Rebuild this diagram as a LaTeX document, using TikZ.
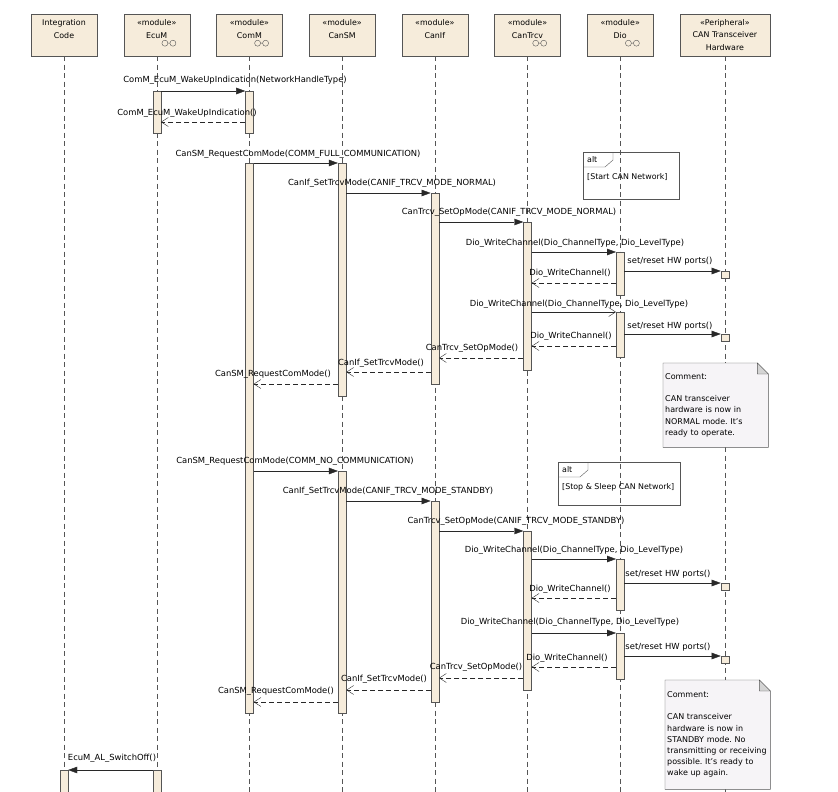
\documentclass[tikz,border=0pt]{standalone}
\usepackage{fontspec}
\setmainfont{DejaVu Sans}
\usetikzlibrary{positioning}
\usetikzlibrary{arrows.meta}
\usetikzlibrary{calc}
\usetikzlibrary{backgrounds}

\definecolor{boxfill}{RGB}{246,236,219}
\definecolor{notefill}{RGB}{246,244,247}
\definecolor{edge}{RGB}{85,85,85}
\definecolor{msgline}{RGB}{40,40,40}

\newcommand{\msgfont}{\fontsize{8.4pt}{10pt}\selectfont}
\newcommand{\altfont}{\fontsize{7.9pt}{9.5pt}\selectfont}
\newcommand{\headfont}{\fontsize{7.9pt}{12.5pt}\selectfont}
\newcommand{\notefont}{\fontsize{8pt}{11.2pt}\selectfont}
\frenchspacing

\begin{document}
\begin{tikzpicture}[
    x=1pt, y=1pt,
    head/.style={rectangle, draw=edge, fill=boxfill, minimum width=66pt, minimum height=42pt, inner sep=1pt, align=center, font=\headfont},
    bar/.style={rectangle, draw=edge, fill=boxfill, minimum width=8pt, inner sep=0pt, anchor=north},
    hw/.style={rectangle, draw=edge, fill=boxfill, minimum width=8pt, minimum height=7pt, inner sep=0pt, anchor=north},
    life/.style={draw=edge, dash pattern=on 5pt off 3.5pt},
    msg/.style={font=\msgfont, inner sep=1pt},
    altmsg/.style={font=\altfont, inner sep=1pt, anchor=west},
    call/.style={draw=msgline, -{Triangle[length=9pt,width=6.5pt]}},
    ret/.style={draw=msgline, dash pattern=on 5pt off 3pt, -{Straight Barb[length=7pt,width=9pt]}},
    frame/.style={rectangle, draw=edge, inner sep=0pt, anchor=north west},
    note/.style={rectangle, minimum width=105pt, text width=101pt, inner xsep=2pt, align=left, font=\notefont, anchor=north west},
]
    \useasboundingbox (0,0) rectangle (838,-792);

    % lifeline heads
    \node[head] (ic) at (64,-35) {Integration\\Code\\\mbox{}};
    \node[head] (ecum) [right=26.3pt of ic] {«module»\\EcuM\\\mbox{}};
    \node[head] (comm) [right=26.3pt of ecum] {«module»\\ComM\\\mbox{}};
    \node[head] (cansm) [right=26.3pt of comm] {«module»\\CanSM\\\mbox{}};
    \node[head] (canif) [right=26.3pt of cansm] {«module»\\CanIf\\\mbox{}};
    \node[head] (cantrcv) [right=26.3pt of canif] {«module»\\CanTrcv\\\mbox{}};
    \node[head] (dio) [right=26.3pt of cantrcv] {«module»\\Dio\\\mbox{}};
    \node[head, minimum width=90pt] (hwp) [right=26.3pt of dio] {«Peripheral»\\CAN Transceiver\\Hardware};

    \draw[edge] ($(ecum.south east)+(-25,13)$) circle (3) ($(ecum.south east)+(-17,13)$) circle (3) ($(ecum.south east)+(-22,13)$) -- ($(ecum.south east)+(-20,13)$);
    \draw[edge] ($(comm.south east)+(-25,13)$) circle (3) ($(comm.south east)+(-17,13)$) circle (3) ($(comm.south east)+(-22,13)$) -- ($(comm.south east)+(-20,13)$);
    \draw[edge] ($(cantrcv.south east)+(-25,13)$) circle (3) ($(cantrcv.south east)+(-17,13)$) circle (3) ($(cantrcv.south east)+(-22,13)$) -- ($(cantrcv.south east)+(-20,13)$);
    \draw[edge] ($(dio.south east)+(-25,13)$) circle (3) ($(dio.south east)+(-17,13)$) circle (3) ($(dio.south east)+(-22,13)$) -- ($(dio.south east)+(-20,13)$);

    \begin{scope}[on background layer]
        \fill[white] (0,0) rectangle (838,-792);
        \draw[life] (ic.south) -- (ic.south |- 0,-800);
        \draw[life] (ecum.south) -- (ecum.south |- 0,-800);
        \draw[life] (comm.south) -- (comm.south |- 0,-800);
        \draw[life] (cansm.south) -- (cansm.south |- 0,-800);
        \draw[life] (canif.south) -- (canif.south |- 0,-800);
        \draw[life] (cantrcv.south) -- (cantrcv.south |- 0,-800);
        \draw[life] (dio.south) -- (dio.south |- 0,-800);
        \draw[life] (hwp.south) -- (hwp.south |- 0,-800);
    \end{scope}

    % wake up
    \node[bar, minimum height=42pt] (ecumA) at (ecum.south |- 0,-91) {};
    \node[bar, minimum height=42pt] (commA) at (comm.south |- 0,-91) {};
    \node[msg] (m1) at (235,-80) {ComM\_EcuM\_WakeUpIndication(NetworkHandleType)};
    \draw[call] (ecumA.north east) -- (commA.north west);
    \node[msg] (m2) at (187,-113) {ComM\_EcuM\_WakeUpIndication()};
    \draw[ret] (commA.west |- 0,-122) -- (ecumA.east |- 0,-122);

    % start CAN network
    \node[bar, minimum height=550pt] (commB) at (comm.south |- 0,-163) {};
    \node[bar, minimum height=233pt] (cansmA) at (cansm.south |- 0,-163) {};
    \node[bar, minimum height=191pt] (canifA) at (canif.south |- 0,-193) {};
    \node[bar, minimum height=148pt] (cantrcvA) at (cantrcv.south |- 0,-222) {};
    \node[bar, minimum height=43pt] (dioA) at (dio.south |- 0,-252) {};
    \node[hw] (hwA) at (hwp.south |- 0,-271) {};
    \node[bar, minimum height=45pt] (dioB) at (dio.south |- 0,-312) {};
    \node[hw] (hwB) at (hwp.south |- 0,-334) {};

    \node[frame, minimum width=96pt, minimum height=47pt] (alt1) at (583,-152) {};
    \draw[edge] ($(alt1.north west)+(30,0)$) -- ++(0,-8) -- ++(-8,-7) -- ($(alt1.north west)+(0,-15)$);
    \node[altmsg] (alt1k) at ($(alt1.north west)+(3,-7.5)$) {alt};
    \node[altmsg] (alt1g) at ($(alt1.west)+(3,-1.5)$) {[Start CAN Network]};

    \node[msg] (m3) at (298,-154) {CanSM\_RequestComMode(COMM\_FULL\_COMMUNICATION)};
    \draw[call] (commB.east |- cansmA.north) -- (cansmA.north west);
    \node[msg] (m4) at (392,-183) {CanIf\_SetTrcvMode(CANIF\_TRCV\_MODE\_NORMAL)};
    \draw[call] (cansmA.east |- canifA.north) -- (canifA.north west);
    \node[msg] (m5) at (509,-212) {CanTrcv\_SetOpMode(CANIF\_TRCV\_MODE\_NORMAL)};
    \draw[call] (canifA.east |- cantrcvA.north) -- (cantrcvA.north west);
    \node[msg] (m6) at (575,-243) {Dio\_WriteChannel(Dio\_ChannelType, Dio\_LevelType)};
    \draw[call] (cantrcvA.east |- dioA.north) -- (dioA.north west);
    \node[msg] (m7) at (670,-261) {set/reset HW ports()};
    \draw[call] (dioA.east |- hwA.north) -- (hwA.north west);
    \node[msg] (m8) at (570,-273) {Dio\_WriteChannel()};
    \draw[ret] (dioA.west |- 0,-283) -- (cantrcvA.east |- 0,-283);
    \node[msg] (m9) at (579,-304) {Dio\_WriteChannel(Dio\_ChannelType, Dio\_LevelType)};
    \draw[draw=msgline, -{Straight Barb[length=7pt,width=9pt]}] (cantrcvA.east |- dioB.north) -- (dioB.north west);
    \node[msg] (m10) at (670,-326) {set/reset HW ports()};
    \draw[call] (dioB.east |- hwB.north) -- (hwB.north west);
    \node[msg] (m11) at (571,-336) {Dio\_WriteChannel()};
    \draw[ret] (dioB.west |- 0,-346) -- (cantrcvA.east |- 0,-346);
    \node[msg] (m12) at (472,-348) {CanTrcv\_SetOpMode()};
    \draw[ret] (cantrcvA.west |- 0,-358) -- (canifA.east |- 0,-358);
    \node[msg] (m13) at (381,-363) {CanIf\_SetTrcvMode()};
    \draw[ret] (canifA.west |- 0,-372) -- (cansmA.east |- 0,-372);
    \node[msg] (m14) at (273,-374) {CanSM\_RequestComMode()};
    \draw[ret] (cansmA.west |- 0,-384) -- (commB.east |- 0,-384);

    \node[note, minimum height=84pt] (c1) at (663,-363) {Comment:\\[11pt]CAN transceiver\\hardware is now in\\NORMAL mode. It's\\ready to operate.};
    \begin{scope}[on background layer]
        \filldraw[draw=edge, fill=notefill] (c1.south west) -- (c1.north west) -- ($(c1.north east)+(-11,0)$) -- ($(c1.north east)+(0,-11)$) -- (c1.south east) -- cycle;
        \filldraw[draw=edge, fill=edge!25] ($(c1.north east)+(-11,0)$) -- ($(c1.north east)+(-11,-11)$) -- ($(c1.north east)+(0,-11)$) -- cycle;
    \end{scope}

    % stop and sleep CAN network
    \node[bar, minimum height=242pt] (cansmB) at (cansm.south |- 0,-471) {};
    \node[bar, minimum height=201pt] (canifB) at (canif.south |- 0,-501) {};
    \node[bar, minimum height=159pt] (cantrcvB) at (cantrcv.south |- 0,-531) {};
    \node[bar, minimum height=51pt] (dioC) at (dio.south |- 0,-559) {};
    \node[hw] (hwC) at (hwp.south |- 0,-583) {};
    \node[bar, minimum height=46pt] (dioD) at (dio.south |- 0,-633) {};
    \node[hw] (hwD) at (hwp.south |- 0,-656) {};

    \node[frame, minimum width=122pt, minimum height=43pt] (alt2) at (558,-462) {};
    \draw[edge] ($(alt2.north west)+(30,0)$) -- ++(0,-8) -- ++(-8,-7) -- ($(alt2.north west)+(0,-15)$);
    \node[altmsg] (alt2k) at ($(alt2.north west)+(3,-7.5)$) {alt};
    \node[altmsg] (alt2g) at ($(alt2.west)+(3,-4)$) {[Stop \& Sleep CAN Network]};

    \node[msg] (m15) at (295,-461) {CanSM\_RequestComMode(COMM\_NO\_COMMUNICATION)};
    \draw[call] (commB.east |- cansmB.north) -- (cansmB.north west);
    \node[msg] (m16) at (388,-491) {CanIf\_SetTrcvMode(CANIF\_TRCV\_MODE\_STANDBY)};
    \draw[call] (cansmB.east |- canifB.north) -- (canifB.north west);
    \node[msg] (m17) at (516,-521) {CanTrcv\_SetOpMode(CANIF\_TRCV\_MODE\_STANDBY)};
    \draw[call] (canifB.east |- cantrcvB.north) -- (cantrcvB.north west);
    \node[msg] (m18) at (574,-550) {Dio\_WriteChannel(Dio\_ChannelType, Dio\_LevelType)};
    \draw[call] (cantrcvB.east |- dioC.north) -- (dioC.north west);
    \node[msg] (m19) at (668,-574) {set/reset HW ports()};
    \draw[call] (dioC.east |- hwC.north) -- (hwC.north west);
    \node[msg] (m20) at (570,-589) {Dio\_WriteChannel()};
    \draw[ret] (dioC.west |- 0,-598) -- (cantrcvB.east |- 0,-598);
    \node[msg] (m21) at (570,-622) {Dio\_WriteChannel(Dio\_ChannelType, Dio\_LevelType)};
    \draw[call] (cantrcvB.east |- dioD.north) -- (dioD.north west);
    \node[msg] (m22) at (668,-647) {set/reset HW ports()};
    \draw[call] (dioD.east |- hwD.north) -- (hwD.north west);
    \node[msg] (m23) at (567,-658) {Dio\_WriteChannel()};
    \draw[ret] (dioD.west |- 0,-667) -- (cantrcvB.east |- 0,-667);
    \node[msg] (m24) at (476,-667) {CanTrcv\_SetOpMode()};
    \draw[ret] (cantrcvB.west |- 0,-678) -- (canifB.east |- 0,-678);
    \node[msg] (m25) at (384,-679) {CanIf\_SetTrcvMode()};
    \draw[ret] (canifB.west |- 0,-690) -- (cansmB.east |- 0,-690);
    \node[msg] (m26) at (276,-691) {CanSM\_RequestComMode()};
    \draw[ret] (cansmB.west |- 0,-702) -- (commB.east |- 0,-702);

    \node[note, minimum height=109pt] (c2) at (665,-680) {Comment:\\[11pt]CAN transceiver\\hardware is now in\\STANDBY mode. No\\transmitting or receiving\\possible. It's ready to\\wake up again.};
    \begin{scope}[on background layer]
        \filldraw[draw=edge, fill=notefill] (c2.south west) -- (c2.north west) -- ($(c2.north east)+(-11,0)$) -- ($(c2.north east)+(0,-11)$) -- (c2.south east) -- cycle;
        \filldraw[draw=edge, fill=edge!25] ($(c2.north east)+(-11,0)$) -- ($(c2.north east)+(-11,-11)$) -- ($(c2.north east)+(0,-11)$) -- cycle;
    \end{scope}

    % switch off
    \node[bar, minimum height=40pt] (icA) at (ic.south |- 0,-770) {};
    \node[bar, minimum height=40pt] (ecumB) at (ecum.south |- 0,-770) {};
    \node[msg] (m27) at (112,-758) {EcuM\_AL\_SwitchOff()};
    \draw[call] (ecumB.north west) -- (icA.north east);
\end{tikzpicture}
\end{document}
